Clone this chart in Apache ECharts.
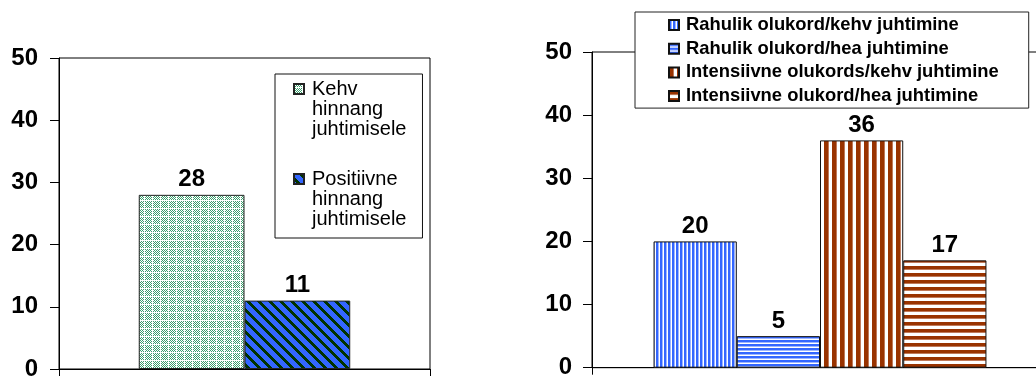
<!DOCTYPE html>
<html>
<head>
<meta charset="utf-8">
<script src="https://cdn.jsdelivr.net/npm/echarts@6/dist/echarts.min.js"></script>
<style>
html,body{margin:0;padding:0;background:#fff;}
#chart{width:1036px;height:377px;}
</style>
</head>
<body>
<div id="chart"></div>
<script>
// ---- data ----
const leftCategories = [''];
const leftSeriesNames = ['Kehv hinnang juhtimisele', 'Positiivne hinnang juhtimisele'];
const leftValues = [28, 11];

const rightCategories = [''];
const rightSeriesNames = [
  'Rahulik olukord/kehv juhtimine',
  'Rahulik olukord/hea juhtimine',
  'Intensiivne olukords/kehv juhtimine',
  'Intensiivne olukord/hea juhtimine'
];
const rightValues = [20, 5, 36, 17];

const yMin = 0, yMax = 50, yInterval = 10;

// ---- patterns ----
function makePattern(w, h, fn) {
  const c = document.createElement('canvas');
  c.width = w; c.height = h;
  const ctx = c.getContext('2d');
  for (let y = 0; y < h; y++) {
    for (let x = 0; x < w; x++) {
      ctx.fillStyle = fn(x, y);
      ctx.fillRect(x, y, 1, 1);
    }
  }
  return { image: c, repeat: 'repeat' };
}
const GREEN = '#3a9e6c', BLUE = '#3366FF', DARK = '#003300', BROWN = '#993300', W = '#ffffff';
const patGreen = makePattern(8, 8, (x, y) => (x === 0 || y === 0) ? W : ((x + y) % 2 === 0 ? GREEN : W));
const patDiag = makePattern(11, 11, (x, y) => (((x - y) % 11 + 11) % 11 < 4) ? DARK : BLUE);
const patBlueV = makePattern(4, 1, (x) => [BLUE, BLUE, '#9db5ff', W][x]);
const patBlueH = makePattern(1, 4, (x, y) => [BLUE, BLUE, '#9db5ff', W][y]);
const patBrownV = makePattern(8, 1, (x) => [BROWN, BROWN, BROWN, BROWN, '#c07a5a', W, W, W][x]);
const patBrownH = makePattern(1, 7, (x, y) => [BROWN, BROWN, BROWN, '#c07a5a', W, W, W][y]);

const leftPatterns = [patGreen, patDiag];
const rightPatterns = [patBlueV, patBlueH, patBrownV, patBrownH];

const FONT = '"Liberation Sans", Arial, sans-serif';

const labelStyle = {
  show: true, position: 'top', distance: 3,
  color: '#000', fontFamily: FONT, fontWeight: 'bold', fontSize: 24
};

function yAxisDef(gridIndex, margin) {
  return {
    type: 'value', gridIndex: gridIndex, min: yMin, max: yMax, interval: yInterval,
    axisLine: { show: true, lineStyle: { color: '#000', width: 1 } },
    axisTick: { show: true, length: 9, lineStyle: { color: '#000' } },
    splitLine: { show: false },
    axisLabel: { color: '#000', fontFamily: FONT, fontWeight: 'bold', fontSize: 24, margin: margin }
  };
}
function xAxisDef(gridIndex, cats) {
  return {
    type: 'category', gridIndex: gridIndex, data: cats,
    axisLine: { show: true, lineStyle: { color: '#000', width: 1 } },
    axisTick: { show: true, length: 7, alignWithLabel: false, lineStyle: { color: '#000' } },
    axisLabel: { show: false },
    splitLine: { show: false }
  };
}

const series = [];
leftSeriesNames.forEach((n, i) => {
  series.push({
    type: 'bar', name: n, xAxisIndex: 0, yAxisIndex: 0,
    data: [leftValues[i]],
    barGap: 0, barCategoryGap: '43%',
    itemStyle: { color: leftPatterns[i], borderColor: '#222', borderWidth: 1 },
    label: labelStyle
  });
});
rightSeriesNames.forEach((n, i) => {
  series.push({
    type: 'bar', name: n, xAxisIndex: 1, yAxisIndex: 1,
    data: [rightValues[i]],
    barGap: 0, barCategoryGap: '27%',
    itemStyle: { color: rightPatterns[i], borderColor: '#111', borderWidth: 1 },
    label: labelStyle
  });
});

// square at the top of a tall (60px) icon box; lone moveTo points only extend the bounds
const tallIcon = 'path://M0,0 M10,60 M0,5 L10,5 L10,15 L0,15 Z';

const option = {
  animation: false,
  backgroundColor: '#fff',
  grid: [
    { left: 59, top: 58, width: 371, height: 311, outerBoundsMode: 'none', containLabel: false,
      show: true, borderColor: '#000', borderWidth: 1, backgroundColor: 'transparent' },
    { left: 592, top: 52, width: 456, height: 315.7, outerBoundsMode: 'none', containLabel: false,
      show: true, borderColor: '#000', borderWidth: 1, backgroundColor: 'transparent' }
  ],
  xAxis: [xAxisDef(0, leftCategories), xAxisDef(1, rightCategories)],
  yAxis: [yAxisDef(0, 21), yAxisDef(1, 20)],
  legend: [
    {
      data: leftSeriesNames, orient: 'vertical', left: 275, top: 74,
      padding: [4, 16, 8, 18], itemGap: 28,
      itemWidth: 10, itemHeight: 60, icon: tallIcon,
      backgroundColor: '#fff', borderColor: '#111', borderWidth: 1,
      formatter: (name) => name.split(' ').join('\n'),
      textStyle: { color: '#000', fontFamily: FONT, fontSize: 20, lineHeight: 20, padding: [0, 0, 0, 3] }
    },
    {
      data: rightSeriesNames, orient: 'vertical', left: 635, top: 12,
      padding: [3, 30, 2, 33], itemGap: 3.7,
      itemWidth: 10, itemHeight: 10, icon: 'rect',
      backgroundColor: '#fff', borderColor: '#222', borderWidth: 1,
      textStyle: { color: '#000', fontFamily: FONT, fontSize: 18.4, fontWeight: 'bold', lineHeight: 20, padding: [0, 0, 0, 2] }
    }
  ],
  series: series
};

const chart = echarts.init(document.getElementById('chart'), null, { renderer: 'canvas' });
chart.setOption(option);
</script>
</body>
</html>
